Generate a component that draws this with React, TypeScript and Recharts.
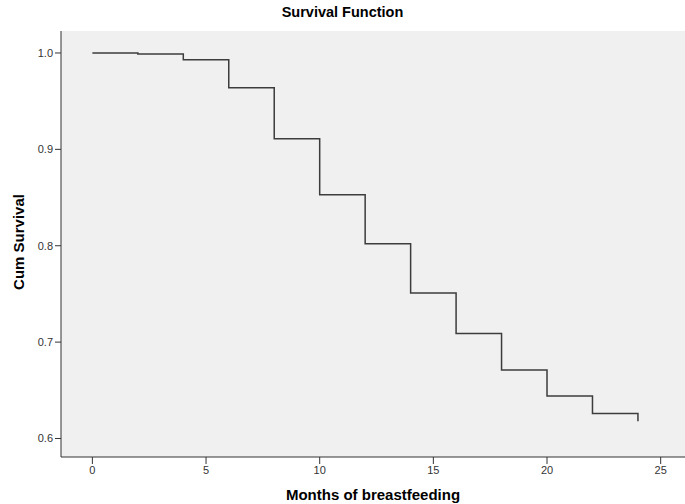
import React from "react";
import { LineChart, Line, XAxis, YAxis, CartesianGrid, Label } from "recharts";

const months = [0, 2, 4, 6, 8, 10, 12, 14, 16, 18, 20, 22, 24];
const cumSurvival = [1.0, 0.999, 0.993, 0.964, 0.911, 0.853, 0.802, 0.751, 0.709, 0.671, 0.644, 0.626, 0.618];
const xTicks = [0, 5, 10, 15, 20, 25];
const yTicks = [0.6, 0.7, 0.8, 0.9, 1.0];

const data = months.map((m, i) => ({ month: m, survival: cumSurvival[i] }));

const FONT = "'Liberation Sans', Arial, sans-serif";

const YLabel = (props: any) => {
  const vb = props.viewBox || {};
  const cx = 18;
  const cy = vb.y + vb.height / 2 - 2;
  return (
    <text
      x={cx}
      y={cy}
      transform={`rotate(-90 ${cx} ${cy})`}
      textAnchor="middle"
      dominantBaseline="central"
      fontFamily={FONT}
      fontSize={15}
      fontWeight="bold"
      fill="#000"
    >
      Cum Survival
    </text>
  );
};

export default function App() {
  return (
    <div style={{ position: "absolute", left: 0, top: 0, width: 685, height: 504, background: "#fff" }}>
      <div
        style={{
          position: "absolute",
          left: 0,
          top: 4,
          width: 685,
          textAlign: "center",
          fontFamily: FONT,
          fontWeight: "bold",
          fontSize: 14.5,
          color: "#000",
        }}
      >
        Survival Function
      </div>
      <LineChart width={685} height={504} data={data} margin={{ top: 31, right: 0, bottom: 0, left: 0 }}>
        <CartesianGrid horizontal={false} vertical={false} fill="#f0f0f0" />
        <XAxis
          xAxisId="top"
          orientation="top"
          dataKey="month"
          type="number"
          domain={[-1.38, 26.07]}
          allowDataOverflow
          height={0}
          tick={false}
          tickLine={false}
          axisLine={{ stroke: "#8a8a8a", strokeWidth: 2 }}
        />
        <XAxis
          dataKey="month"
          type="number"
          domain={[-1.38, 26.07]}
          allowDataOverflow
          ticks={xTicks}
          height={47}
          tickSize={7}
          tick={{ fontSize: 11, fill: "#333", fontFamily: FONT }}
          axisLine={{ stroke: "#333" }}
          tickLine={{ stroke: "#333" }}
        >
          <Label
            value="Months of breastfeeding"
            position="insideBottom"
            offset={4}
            style={{ fontFamily: FONT, fontSize: 15, fontWeight: "bold", fill: "#000" }}
          />
        </XAxis>
        <YAxis
          type="number"
          domain={[0.5808, 1.0228]}
          allowDataOverflow
          ticks={yTicks}
          width={61}
          tickSize={6}
          tickFormatter={(v: number) => v.toFixed(1)}
          tick={{ fontSize: 11, fill: "#333", fontFamily: FONT }}
          axisLine={{ stroke: "#333" }}
          tickLine={{ stroke: "#333" }}
        >
          <Label content={<YLabel />} />
        </YAxis>
        <Line
          type="stepAfter"
          dataKey="survival"
          stroke="#3c3c3c"
          strokeWidth={1.5}
          dot={false}
          isAnimationActive={false}
        />
      </LineChart>
    </div>
  );
}
